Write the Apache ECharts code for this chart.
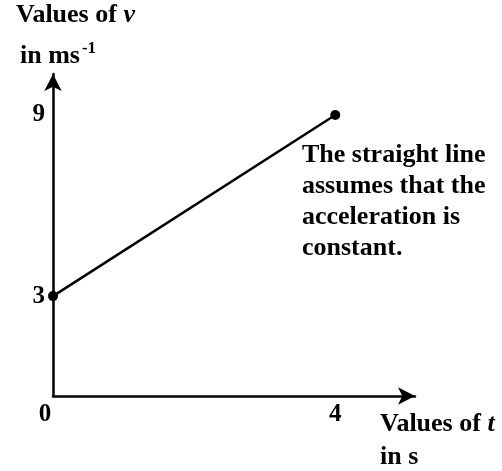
<!DOCTYPE html>
<html><head><meta charset="utf-8">
<script src="https://cdn.jsdelivr.net/npm/echarts@6/dist/echarts.min.js"></script>
<style>html,body{margin:0;padding:0;background:#fff}#c{width:502px;height:471px}</style>
</head><body><div id="c"></div>
<script>
const tValues = [0, 4];
const vValues = [3, 9];
const xTickValues = [0, 4];
const xTickLabels = ['0', '4'];
const yTickValues = [3, 9];
const yTickLabels = ['3', '9'];
const noteLines = ['The straight line', 'assumes that the', 'acceleration is', 'constant.'];

const FONT = '"Liberation Serif", "Times New Roman", serif';
const chart = echarts.init(document.getElementById('c'));
chart.setOption({
  backgroundColor: '#fff',
  animation: false,
  grid: { left: 53, right: 87, top: 74, bottom: 75 },
  xAxis: {
    type: 'value', min: 0, max: 5.13,
    axisLine: { onZero: false, lineStyle: { color: '#000', width: 2.5 }, symbol: ['none', 'arrow'], symbolSize: [13, 17] },
    axisTick: { show: false },
    splitLine: { show: false },
    axisLabel: {
      customValues: xTickValues,
      margin: 6,
      color: '#000', fontFamily: FONT, fontWeight: 'bold', fontSize: 25,
      formatter: v => { const i = xTickValues.indexOf(v); return i === 0 ? '{z|' + xTickLabels[i] + '}' : xTickLabels[i]; },
      rich: { z: { padding: [0, 16, 0, 0], color: '#000', fontFamily: FONT, fontWeight: 'bold', fontSize: 25 } }
    }
  },
  yAxis: {
    type: 'value', min: -0.31, max: 10.36,
    axisLine: { onZero: false, lineStyle: { color: '#000', width: 2.5 }, symbol: ['none', 'arrow'], symbolSize: [13, 17] },
    axisTick: { show: false },
    splitLine: { show: false },
    axisLabel: {
      customValues: yTickValues,
      margin: 8,
      color: '#000', fontFamily: FONT, fontWeight: 'bold', fontSize: 25,
      formatter: v => yTickLabels[yTickValues.indexOf(v)]
    }
  },
  series: [{
    type: 'line',
    data: tValues.map((t, i) => [t, vValues[i]]),
    symbol: 'circle', symbolSize: 10,
    lineStyle: { color: '#000', width: 2.5 },
    itemStyle: { color: '#000' },
    z: 5
  }],
  graphic: [
    { type: 'text', left: 16, top: 2, style: {
      text: '{b|Values of }{i|v}',
      rich: { b: { fontFamily: FONT, fontWeight: 'bold', fontSize: 26, fill: '#000' },
              i: { fontFamily: FONT, fontWeight: 'bold', fontStyle: 'italic', fontSize: 26, fill: '#000' } } } },
    { type: 'text', left: 20, top: 40, style: {
      text: '{b|in ms}{s|-1}',
      rich: { b: { fontFamily: FONT, fontWeight: 'bold', fontSize: 26, fill: '#000', lineHeight: 32 },
              s: { fontFamily: FONT, fontWeight: 'bold', fontSize: 17, fill: '#000', verticalAlign: 'top', lineHeight: 32, padding: [0, 0, 0, 2] } } } },
    { type: 'text', left: 380, top: 411, style: {
      text: '{b|Values of }{i|t}',
      rich: { b: { fontFamily: FONT, fontWeight: 'bold', fontSize: 26, fill: '#000' },
              i: { fontFamily: FONT, fontWeight: 'bold', fontStyle: 'italic', fontSize: 26, fill: '#000' } } } },
    { type: 'text', left: 380, top: 444, style: { text: 'in s', fontFamily: FONT, fontWeight: 'bold', fontSize: 26, fill: '#000' } },
    { type: 'text', left: 302, top: 140, style: { text: noteLines.join('\n'), fontFamily: FONT, fontWeight: 'bold', fontSize: 26, lineHeight: 31, fill: '#000' } }
  ]
});
</script></body></html>
